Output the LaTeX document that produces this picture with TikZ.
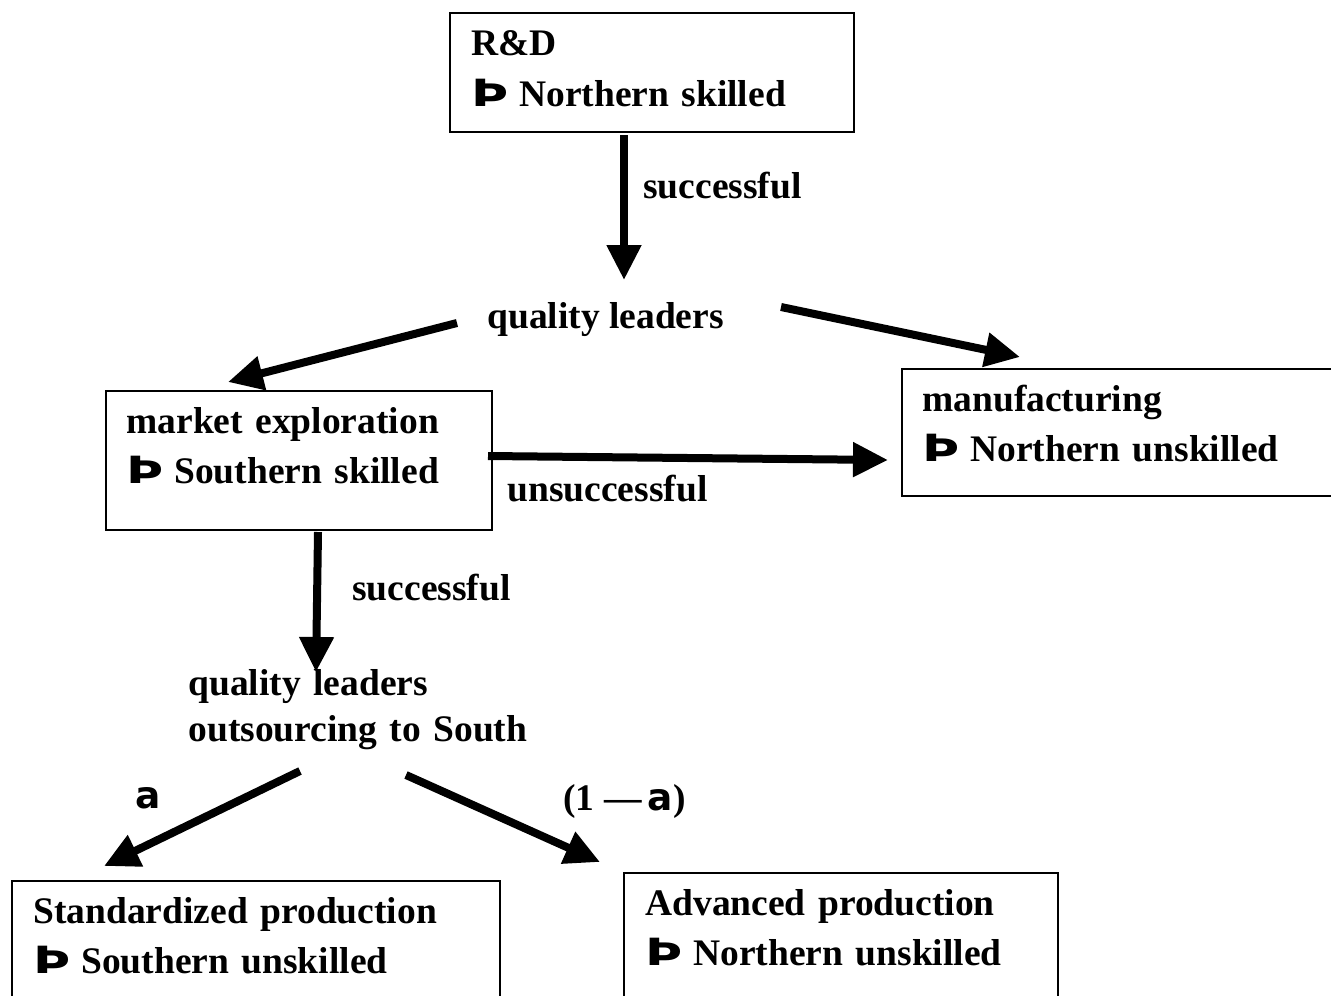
\documentclass[tikz,border=0pt]{standalone}
\usepackage{fontspec}
\setmainfont{Liberation Serif}
\newfontfamily\heavyfont{DejaVu Sans}
\usetikzlibrary{arrows.meta}

\newcommand{\thornsym}{{\heavyfont\bfseries\scalebox{1.35}[1.0]{Þ}}}
\newcommand{\alphasym}{{\heavyfont\bfseries a}}

\tikzset{
  box/.style={draw=black, line width=1pt},
  boxtext/.style={font=\bfseries\fontsize{18.75}{25}\selectfont, inner sep=0pt,
    anchor=base west, text width=260pt, align=left},
  lbl/.style={font=\bfseries\fontsize{18.75}{25}\selectfont, inner sep=0pt, anchor=base west},
  flow/.style={line width=4pt, -{Triangle[length=17.5pt,width=16.5pt]}},
}

\begin{document}
\begin{tikzpicture}[x=0.5pt, y=-0.5pt]

\useasboundingbox (0,0) rectangle (1331,995);

% boxes
\draw[box] (450,13) rectangle (854,132);
\draw[box] (106,391) rectangle (492,530);
\draw[box] (902,369) rectangle (1345,496);
\draw[box] (12,881) rectangle (500,1010);
\draw[box] (624,873) rectangle (1058,1010);

\node[boxtext] (rd) at (471,56) {R\&D\\ \thornsym\hspace{-1pt} Northern skilled};
\node[boxtext] (market) at (126,433) {market exploration\\ \thornsym\hspace{-1pt} Southern skilled};
\node[boxtext] (manuf) at (922,411) {manufacturing\\ \thornsym\hspace{-1pt} Northern unskilled};
\node[boxtext] (std) at (33,923) {Standardized production\\ \thornsym\hspace{-1pt} Southern unskilled};
\node[boxtext] (adv) at (645,915) {Advanced production\\ \thornsym\hspace{-1pt} Northern unskilled};

% intermediate states
\node[lbl] (leaders) at (487,328) {quality leaders};
\node[lbl, text width=200pt, align=left] (outsrc) at (188,695) {quality leaders\\[-2pt] outsourcing to South};

% arrow ends
\coordinate (rd-s) at (624,135);
\coordinate (leaders-n) at (624,280);
\coordinate (leaders-w) at (457,323);
\coordinate (market-n) at (228,382);
\coordinate (leaders-e) at (781,307);
\coordinate (manuf-n) at (1020,357);
\coordinate (market-e) at (488,456);
\coordinate (manuf-w) at (888,460);
\coordinate (market-s) at (318,532);
\coordinate (outsrc-n) at (316,672);
\coordinate (outsrc-sw) at (300,771);
\coordinate (std-n) at (104,866);
\coordinate (outsrc-se) at (406,775);
\coordinate (adv-n) at (600,862);

\draw[flow] (rd-s)--(leaders-n);
\draw[flow] (leaders-w)--(market-n);
\draw[flow] (leaders-e)--(manuf-n);
\draw[flow] (market-e)--(manuf-w);
\draw[flow] (market-s)--(outsrc-n);
\draw[flow] (outsrc-sw)--(std-n);
\draw[flow] (outsrc-se)--(adv-n);

% edge labels
\node[lbl] (succ1) at (643,198) {successful};
\node[lbl] (unsucc) at (507,501) {unsuccessful};
\node[lbl] (succ2) at (352,600) {successful};
\node[lbl] (share) at (135,808) {\alphasym};
\node[lbl] (rest) at (563,810) {(1 —\,\alphasym)};

\end{tikzpicture}
\end{document}
